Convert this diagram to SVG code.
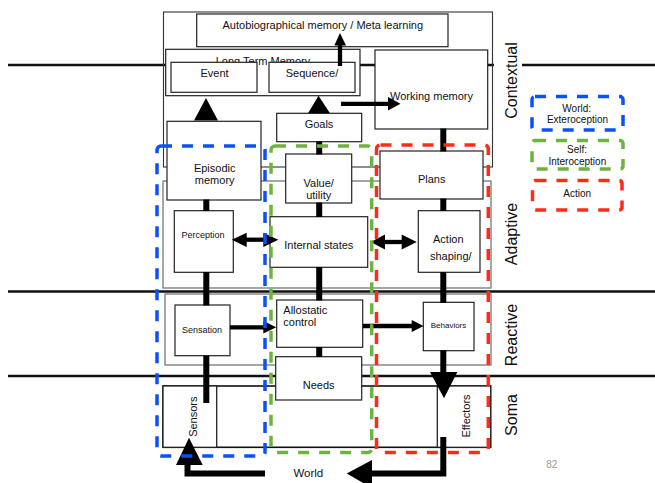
<svg xmlns="http://www.w3.org/2000/svg" width="655" height="483" viewBox="0 0 655 483">
<style>
text{font-family:"Liberation Sans",Arial,sans-serif;fill:#111}
.t11{font-size:11px}
.t9{font-size:9px}
.t8{font-size:8px}
.lab{font-size:16px}
.leg{font-size:10px}
.c{text-anchor:middle}
.box{fill:#fff;stroke:#222;stroke-width:1.2}
.outer{fill:none;stroke:#333;stroke-width:1.1}
.gray{fill:none;stroke:#777;stroke-width:1.3}
.hline{stroke:#111;stroke-width:2.6}
.thick{stroke:#000;stroke-width:6;fill:none}
.mid{stroke:#000;stroke-width:4.3;fill:none}
.head{fill:#000}
.dash{fill:none;stroke-width:3.5;stroke-dasharray:11 10}
.blue{stroke:#0a50ff}
.green{stroke:#6db33f}
.red{stroke:#ff2a1a}
</style>
<rect width="655" height="483" fill="#fff"/>

<!-- layer lines -->
<g id="layers">
  <line class="hline" x1="8" y1="65" x2="655" y2="65"/>
  <line class="hline" x1="8" y1="291.5" x2="655" y2="291.5"/>
  <line class="hline" x1="8" y1="376" x2="655" y2="376"/>
  <rect x="494" y="42" width="28" height="78" fill="#fff"/>
</g>

<!-- layer frames -->
<g id="frames">
  <rect class="outer" x="163.5" y="12" width="329" height="155"/>
  <rect class="gray" x="163" y="181" width="328" height="107"/>
  <rect class="gray" x="165" y="294" width="326" height="71"/>
  <rect fill="#fff" stroke="#111" stroke-width="1.6" x="163" y="386" width="327.5" height="61.3"/>
</g>

<g id="sensors">
  <rect fill="#fff" stroke="#222" stroke-width="1.3" x="163" y="386" width="53.7" height="61.3"/>
  <text class="t11 c" transform="translate(196.5,416.7) rotate(-90)">Sensors</text>
</g>
<g id="effectors">
  <rect fill="#fff" stroke="#222" stroke-width="1.3" x="437.3" y="386" width="53.4" height="61.3"/>
  <text class="t11 c" transform="translate(470.3,416) rotate(-90)">Effectors</text>
</g>

<!-- nodes -->
<g id="autobiographical">
  <rect class="box" x="196.7" y="14" width="251.3" height="32.7"/>
  <text class="t11 c" x="322.8" y="28.5">Autobiographical memory / Meta learning</text>
</g>
<g id="long-term-memory">
  <rect class="box" x="165.7" y="49.3" width="194.3" height="46.4"/>
  <text class="t11 c" x="263" y="64.5">Long Term Memory</text>
</g>
<g id="event">
  <rect class="box" x="171" y="62.3" width="86" height="30"/>
  <text class="t11 c" x="214.5" y="77">Event</text>
</g>
<g id="sequence">
  <rect class="box" x="269" y="62.3" width="86" height="30"/>
  <text class="t11 c" x="312" y="77">Sequence/</text>
</g>
<g id="working-memory">
  <rect class="box" x="375" y="50" width="112.7" height="79"/>
  <text class="t11 c" x="431.5" y="100">Working memory</text>
</g>
<g id="goals">
  <rect class="box" x="276.7" y="113.3" width="85" height="28.4"/>
  <text class="t11 c" x="319" y="128">Goals</text>
</g>
<g id="episodic-memory">
  <rect class="box" x="167" y="121.3" width="94" height="78.7"/>
  <text class="t11 c" x="214.7" y="171.7">Episodic</text>
  <text class="t11 c" x="214.7" y="183.5">memory</text>
</g>
<g id="value-utility">
  <rect class="box" x="285.7" y="154" width="66" height="49"/>
  <text class="t11 c" x="318.7" y="186.7">Value/</text>
  <text class="t11 c" x="318.7" y="198.5">utility</text>
</g>
<g id="plans">
  <rect class="box" x="380" y="151" width="103" height="48"/>
  <text class="t11 c" x="431.7" y="182.7">Plans</text>
</g>
<g id="perception">
  <rect class="box" x="174.3" y="210.7" width="59" height="61.6"/>
  <text class="t9 c" x="203" y="238.3">Perception</text>
</g>
<g id="internal-states">
  <rect class="box" x="270" y="216.7" width="97.7" height="50.6"/>
  <text class="t11 c" x="318.8" y="248.7">Internal states</text>
</g>
<g id="action-shaping">
  <rect class="box" x="418.3" y="210.7" width="61.7" height="61.6"/>
  <text class="t11 c" x="448.3" y="242.7">Action</text>
  <text class="t11 c" x="450.8" y="260">shaping/</text>
</g>
<g id="sensation">
  <rect class="box" x="175" y="305" width="55" height="50.7"/>
  <text class="t9 c" x="202" y="332.7">Sensation</text>
</g>
<g id="allostatic-control">
  <rect class="box" x="276.7" y="300" width="86" height="47.3"/>
  <text class="t11" x="283.3" y="314.3">Allostatic</text>
  <text class="t11" x="283.3" y="326">control</text>
</g>
<g id="behaviors">
  <rect class="box" x="423.3" y="302.3" width="50.7" height="48.4"/>
  <text class="t8 c" x="448.5" y="328.3">Behaviors</text>
</g>
<g id="needs">
  <rect class="box" x="275.7" y="356.7" width="86" height="43.3"/>
  <text class="t11 c" x="318.7" y="388.5">Needs</text>
</g>
<g id="world">
  <text class="c" font-size="11.5" x="308.3" y="477.3">World</text>
</g>

<!-- connectors -->
<g id="connectors">
  <!-- left trunk -->
  <line class="thick" x1="206.3" y1="199.5" x2="206.3" y2="211"/>
  <line class="thick" x1="206.3" y1="272" x2="206.3" y2="305.5"/>
  <line class="thick" x1="206.3" y1="355.5" x2="206.3" y2="403"/>
  <!-- middle trunk -->
  <line class="thick" x1="319.2" y1="141.5" x2="319.2" y2="154.5"/>
  <line class="thick" x1="319.2" y1="202.5" x2="319.2" y2="217"/>
  <line class="thick" x1="319.2" y1="267" x2="319.2" y2="300.5"/>
  <line class="thick" x1="319.2" y1="347" x2="319.2" y2="357"/>
  <!-- right trunk -->
  <line class="thick" x1="443.3" y1="128.5" x2="443.3" y2="151.5"/>
  <line class="thick" x1="443.3" y1="198.5" x2="443.3" y2="211"/>
  <line class="thick" x1="443.3" y1="272" x2="443.3" y2="302.8"/>
  <line class="thick" x1="443.3" y1="350.3" x2="443.3" y2="373"/>
  <polygon class="head" points="430,372 457.3,372 444,398.3"/>
  <!-- effectors to world to sensors -->
  <polyline class="thick" stroke-width="7" points="443.3,437 443.3,473.5 372,473.5"/>
  <polygon class="head" points="372,460 372,488 346.7,473.5"/>
  <polyline class="thick" stroke-width="7" points="265,473.5 187.5,473.5 187.5,464"/>
  <polygon class="head" points="176,465 202.7,465 189,437.7"/>
  <!-- to LTM -->
  <polygon class="head" points="194,120.5 218,120.5 206,98"/>
  <polygon class="head" points="308,113.3 330,113.3 318.5,95.7"/>
  <!-- Sequence to autobiographical -->
  <line class="mid" stroke-width="4" x1="340" y1="66" x2="340" y2="44"/>
  <polygon class="head" points="334.3,45.5 346,45.5 340,33"/>
  <!-- to working memory -->
  <line class="mid" stroke-width="4" x1="341" y1="103.8" x2="389" y2="103.8"/>
  <polygon class="head" points="388,97 388,110.5 400.5,103.8"/>
  <!-- perception <-> internal states -->
  <line class="mid" x1="244" y1="239.7" x2="266" y2="239.7"/>
  <polygon class="head" points="231.7,239.7 246.7,232.7 246.7,247"/>
  <polygon class="head" points="278.3,239.7 263.3,232.7 263.3,247"/>
  <!-- internal states <-> action shaping -->
  <line class="mid" x1="383" y1="242" x2="404" y2="242"/>
  <polygon class="head" points="370.7,242 385,234.5 385,249.5"/>
  <polygon class="head" points="416.7,242 401.7,234.5 401.7,249.5"/>
  <!-- sensation -> allostatic -->
  <line class="mid" x1="230" y1="327.3" x2="265" y2="327.3"/>
  <polygon class="head" points="263.3,321 263.3,333.5 276.3,327.3"/>
  <!-- allostatic -> behaviors -->
  <line class="mid" x1="363" y1="326" x2="413" y2="326"/>
  <polygon class="head" points="411.7,320 411.7,332 423.5,326"/>
</g>

<!-- groupings -->
<g id="groups">
  <rect class="dash blue" x="157" y="146" width="108" height="310" rx="4"/>
  <rect class="dash green" x="271" y="146" width="100.7" height="306.5" rx="4"/>
  <rect class="dash red" x="376.5" y="145" width="111.8" height="307.5" rx="4"/>
</g>

<!-- layer labels -->
<g id="labels">
  <text class="lab c" transform="translate(516.5,80.5) rotate(-90)">Contextual</text>
  <text class="lab c" transform="translate(516.5,234) rotate(-90)">Adaptive</text>
  <text class="lab c" transform="translate(516.5,335) rotate(-90)">Reactive</text>
  <text class="lab c" transform="translate(516.5,415) rotate(-90)">Soma</text>
  <text class="c" font-size="10" x="551.7" y="468.3" style="fill:#999">82</text>
</g>

<!-- legend -->
<g id="legend-world">
  <rect class="dash blue" x="532" y="96.5" width="91" height="33.5" rx="3"/>
  <text class="leg c" x="576.7" y="111.7">World:</text>
  <text class="leg c" x="577.5" y="123.3">Exteroception</text>
</g>
<g id="legend-self">
  <rect class="dash green" x="532" y="140.5" width="91" height="28.5" rx="3"/>
  <text class="leg c" x="577" y="152.7">Self:</text>
  <text class="leg c" x="577.3" y="165">Interoception</text>
</g>
<g id="legend-action">
  <rect class="dash red" x="532.5" y="180.5" width="89.5" height="29.5" rx="3"/>
  <text class="leg c" x="577.2" y="197.3">Action</text>
</g>
</svg>
